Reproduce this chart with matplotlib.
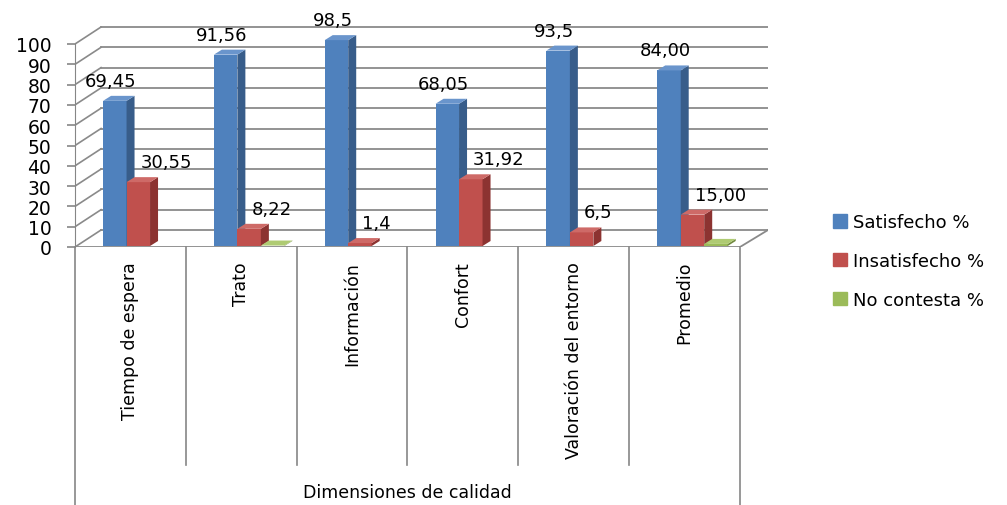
import matplotlib
matplotlib.use("Agg")
import matplotlib.pyplot as plt
from matplotlib.patches import Polygon, Patch

# === DATOS ===
categorias = ["Tiempo de espera", "Trato", "Información", "Confort",
              "Valoración del entorno", "Promedio"]
satisfecho = [69.45, 91.56, 98.5, 68.05, 93.5, 84.00]
insatisfecho = [30.55, 8.22, 1.4, 31.92, 6.5, 15.00]
no_contesta = [0.0, 0.22, 0.0, 0.0, 0.0, 1.0]
etiq_sat = ["69,45", "91,56", "98,5", "68,05", "93,5", "84,00"]
etiq_ins = ["30,55", "8,22", "1,4", "31,92", "6,5", "15,00"]
series = ["Satisfecho %", "Insatisfecho %", "No contesta %"]

# colores: frente, lado, techo
colores = [("#4F81BD", "#385D8A", "#6A95CC"),
           ("#C0504D", "#8C3331", "#CE6A67"),
           ("#9BBB59", "#71893F", "#AFCB73")]

W, H = 1007, 506
fig = plt.figure(figsize=(W / 100, H / 100), dpi=100)
plt.rcParams["font.family"] = "DejaVu Sans"

cat_px = (740 - 75) / 6
xmax = 5.5 + 28 / cat_px

# === EJES DE PAREDES ===
ax = fig.add_axes([75 / W, (H - 248) / H, (768 - 75) / W, (248 - 27) / H])
ax.set_xlim(-0.5, xmax)
ax.set_ylim(0, 221 / 2.03)
ax.patch.set_alpha(0)
for s in ["top", "right", "bottom"]:
    ax.spines[s].set_visible(False)
ax.spines["left"].set_bounds(0, 100)
ax.spines["left"].set_color("#868686")
ax.set_xticks([])
ax.set_yticks(range(0, 101, 10))
ax.tick_params(axis="y", length=6, width=1.2, color="#868686", pad=11,
               labelsize=13.5)

dx = 0.235
dy = 17 / 2.03
grid_col = "#8a8a8a"
for v in range(0, 101, 10):
    ax.plot([-0.5 + dx, xmax], [v + dy, v + dy], color=grid_col, lw=1.3)
    ax.plot([-0.5, -0.5 + dx], [v, v + dy], color=grid_col, lw=1.2)
# suelo
ax.plot([-0.5, 5.5], [0, 0], color=grid_col, lw=1.3)
ax.plot([5.5, xmax], [0, dy], color=grid_col, lw=1.3)

# === EJE DE CATEGORÍAS (dos niveles) ===
for i in range(7):
    fondo = -(506 - 248) / 2.03 if i in (0, 6) else -(466 - 248) / 2.03
    ax.plot([i - 0.5, i - 0.5], [0, fondo], color="#868686", lw=1.2,
            clip_on=False)
for i, c in enumerate(categorias):
    ax.text(i, -(262 - 248) / 2.03, c, rotation=90, ha="center", va="top",
            fontsize=12.5)
ax.text(2.5, -(493 - 248) / 2.03, "Dimensiones de calidad", ha="center",
        va="center", fontsize=12.5)

# === EJES DE BARRAS ===
axb = fig.add_axes([75 / W, (H - 247) / H, (768 - 75) / W, (247 - 27) / H])
axb.set_xlim(-0.5, xmax)
axb.set_ylim(0, 220 / 2.09)
axb.axis("off")

ancho = 23.5 / cat_px
prof_x = 8 / cat_px
prof_y = 5 / 2.09
desp = [-0.247, -0.035, 0.177]

for i in range(len(categorias)):
    for k, vals in enumerate([satisfecho, insatisfecho, no_contesta]):
        h = vals[i]
        if h <= 0:
            continue
        x0 = i + desp[k]
        fr, la, te = colores[k]
        axb.bar(x0, h, width=ancho, align="edge", color=fr, lw=0)
        axb.add_patch(Polygon([(x0 + ancho, 0), (x0 + ancho, h),
                               (x0 + ancho + prof_x, h + prof_y),
                               (x0 + ancho + prof_x, prof_y)],
                              closed=True, color=la, lw=0))
        axb.add_patch(Polygon([(x0, h), (x0 + ancho, h),
                               (x0 + ancho + prof_x, h + prof_y),
                               (x0 + prof_x, h + prof_y)],
                              closed=True, color=te, lw=0))

# etiquetas de datos
for i in range(len(categorias)):
    xb = i + desp[0] + ancho / 2 - 4 / cat_px
    axb.text(xb, satisfecho[i] + 9.6, etiq_sat[i], ha="center", va="center",
             fontsize=13, clip_on=False)
    xr = i + desp[1] + 14 / cat_px
    axb.text(xr, insatisfecho[i] + 9.6, etiq_ins[i], ha="left", va="center",
             fontsize=13, clip_on=False)

# === LEYENDA ===
handles = [Patch(color=c[0]) for c in colores]
fig.legend(handles, series, loc="center left",
           bbox_to_anchor=(817 / W, 1 - 262 / H), frameon=False,
           fontsize=13, handlelength=0.75, handleheight=0.75,
           handletextpad=0.35, labelspacing=1.15)

fig.savefig("out.png", dpi=100)
